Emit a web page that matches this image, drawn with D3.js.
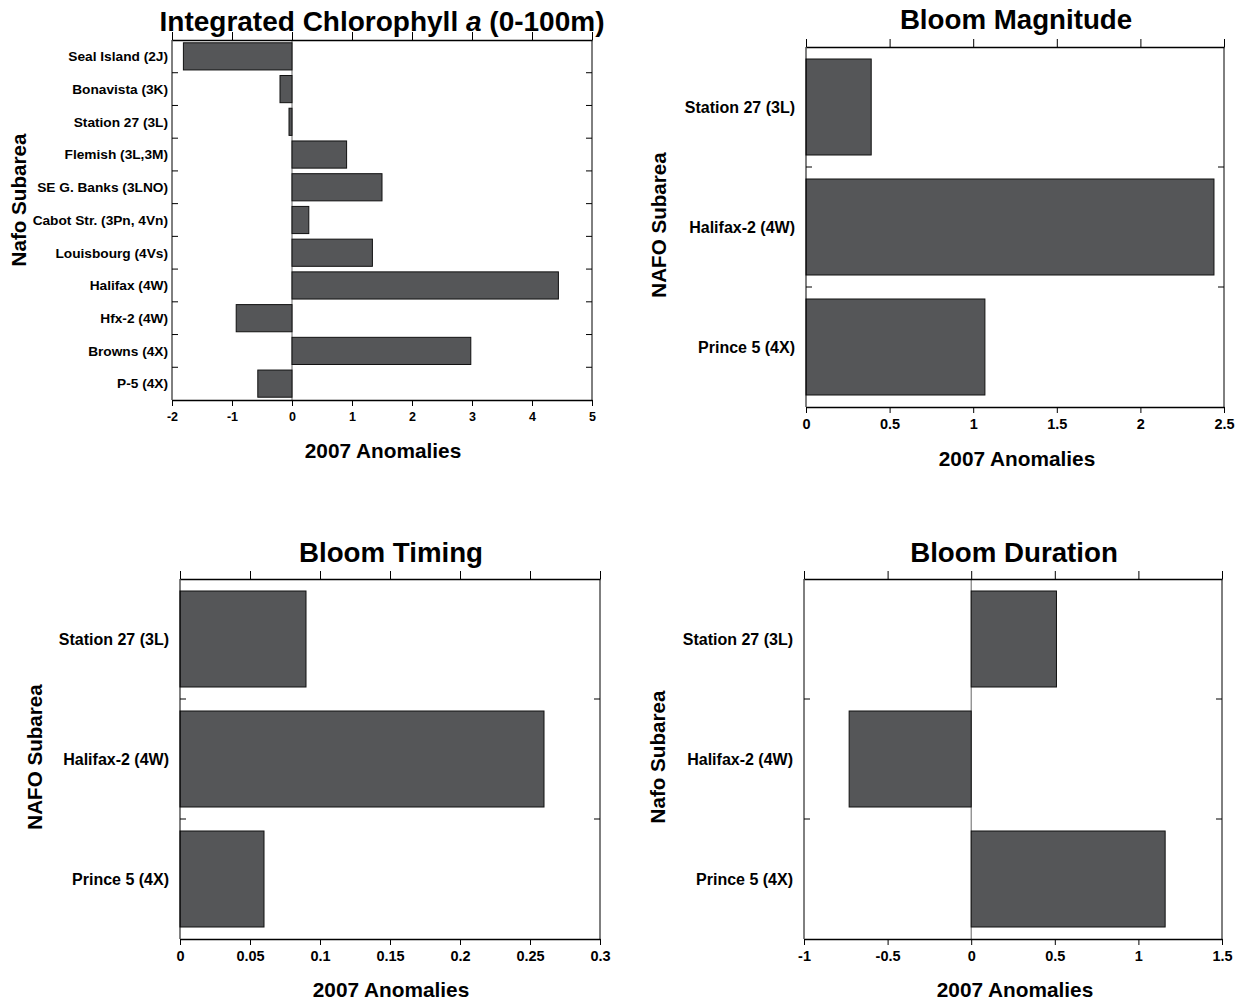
<!DOCTYPE html>
<html><head><meta charset="utf-8">
<script src="https://cdn.jsdelivr.net/npm/d3@7"></script>
<style>body{margin:0;background:#fff}svg{display:block}text{font-family:"Liberation Sans",Arial,sans-serif;font-weight:bold}</style>
</head><body>
<script>
// ---- data ----
const chlCategories = ["Seal Island (2J)","Bonavista (3K)","Station 27 (3L)","Flemish (3L,3M)","SE G. Banks (3LNO)","Cabot Str. (3Pn, 4Vn)","Louisbourg (4Vs)","Halifax (4W)","Hfx-2 (4W)","Browns (4X)","P-5 (4X)"];
const chlValues = [-1.81,-0.2,-0.05,0.91,1.5,0.28,1.34,4.44,-0.93,2.98,-0.57];
const chlTicks = [-2,-1,0,1,2,3,4,5];

const bloomCategories = ["Station 27 (3L)","Halifax-2 (4W)","Prince 5 (4X)"];
const magnitudeValues = [0.39,2.44,1.07];
const magnitudeTicks = [0,0.5,1,1.5,2,2.5];
const timingValues = [0.09,0.26,0.06];
const timingTicks = [0,0.05,0.1,0.15,0.2,0.25,0.3];
const durationValues = [0.51,-0.73,1.16];
const durationTicks = [-1,-0.5,0,0.5,1,1.5];

const W = 1251, H = 1005;
const svg = d3.select("body").append("svg").attr("width",W).attr("height",H);

function panel(o){
  const g = svg.append("g");
  const x = d3.scaleLinear().domain([o.ticks[0], o.ticks[o.ticks.length-1]]).range([o.x0,o.x1]);
  const y = d3.scaleBand().domain(o.cats).range([o.y0,o.y1]).paddingInner(o.pad).paddingOuter(o.pad/2);
  if (o.zero) g.append("line").attr("x1",x(0)).attr("x2",x(0)).attr("y1",o.y0).attr("y2",o.y1)
     .attr("stroke","#666").attr("stroke-width",1);
  g.selectAll("rect.bar").data(o.vals).join("rect").attr("class","bar")
    .attr("x",(d)=>x(Math.min(0,d))).attr("width",(d)=>Math.abs(x(d)-x(0)))
    .attr("y",(d,i)=>y(o.cats[i])).attr("height",y.bandwidth())
    .attr("fill","#555658").attr("stroke","#111").attr("stroke-width",1);
  const bx = g.append("g").attr("transform",`translate(0,${o.y1})`)
    .call(d3.axisBottom(x).tickValues(o.ticks).tickFormat(d=>String(d)).tickSize(6).tickSizeOuter(0).tickPadding(6));
  bx.select(".domain").attr("stroke","#000").attr("stroke-width",1.5);
  bx.selectAll("line").attr("stroke","#000");
  bx.selectAll("text").attr("font-size",o.tickFs).attr("fill","#000");
  const tx = g.append("g").attr("transform",`translate(0,${o.y0})`)
    .call(d3.axisTop(x).tickValues(o.ticks).tickFormat("").tickSize(8).tickSizeOuter(0));
  tx.select(".domain").attr("stroke","#000").attr("stroke-width",1.5);
  tx.selectAll("line").attr("stroke","#000");
  g.append("line").attr("x1",o.x0).attr("x2",o.x0).attr("y1",o.y0).attr("y2",o.y1).attr("stroke","#000");
  g.append("line").attr("x1",o.x1).attr("x2",o.x1).attr("y1",o.y0).attr("y2",o.y1).attr("stroke","#000");
  const step = y.step();
  const seps = d3.range(1,o.cats.length).map(i=>o.y0+i*step);
  g.selectAll("line.sl").data(seps).join("line").attr("class","sl")
    .attr("x1",o.x0).attr("x2",o.x0+6).attr("y1",d=>d).attr("y2",d=>d).attr("stroke","#000");
  g.selectAll("line.sr").data(seps).join("line").attr("class","sr")
    .attr("x1",o.x1-6).attr("x2",o.x1).attr("y1",d=>d).attr("y2",d=>d).attr("stroke","#000");
  g.selectAll("text.cat").data(o.cats).join("text").attr("class","cat")
    .attr("x",o.x0-o.labGap).attr("y",d=>y(d)+y.bandwidth()/2).attr("dy","0.35em")
    .attr("text-anchor","end").attr("font-size",o.catFs).text(d=>d);
  const t = g.append("text").attr("x",o.titleX).attr("y",o.titleY).attr("text-anchor","middle")
    .attr("font-size",o.titleFs);
  if (o.titleParts) o.titleParts.forEach(p=>t.append("tspan").attr("font-style",p[1]?"italic":"normal").text(p[0]));
  else t.text(o.title);
  g.append("text").attr("x",o.xtX).attr("y",o.xtY).attr("text-anchor","middle").attr("font-size",o.xtFs).text("2007 Anomalies");
  g.append("text").attr("transform",`translate(${o.ytX},${o.ytY}) rotate(-90)`).attr("text-anchor","middle")
    .attr("font-size",o.ytFs).text(o.ytitle);
}

panel({cats:chlCategories, vals:chlValues, ticks:chlTicks, x0:172,x1:592,y0:40,y1:400, pad:0.17, zero:true,
  tickFs:12.5, catFs:13.7, labGap:4, titleParts:[["Integrated Chlorophyll "],["a",true],[" (0-100m)"]], titleX:382,titleY:31,titleFs:28,
  xtX:383,xtY:458,xtFs:20.8, ytX:26,ytY:200,ytFs:20.6, ytitle:"Nafo Subarea"});
panel({cats:bloomCategories, vals:magnitudeValues, ticks:magnitudeTicks, x0:806,x1:1224,y0:47,y1:407, pad:0.2, zero:false,
  tickFs:14.5, catFs:16, labGap:11, title:"Bloom Magnitude", titleX:1016,titleY:29,titleFs:27.7,
  xtX:1017,xtY:466,xtFs:20.8, ytX:666,ytY:225,ytFs:20.6, ytitle:"NAFO Subarea"});
panel({cats:bloomCategories, vals:timingValues, ticks:timingTicks, x0:180,x1:600,y0:579,y1:939, pad:0.2, zero:false,
  tickFs:14.5, catFs:16, labGap:11, title:"Bloom Timing", titleX:391,titleY:562,titleFs:27.7,
  xtX:391,xtY:997,xtFs:20.8, ytX:42,ytY:757,ytFs:20.6, ytitle:"NAFO Subarea"});
panel({cats:bloomCategories, vals:durationValues, ticks:durationTicks, x0:804,x1:1222,y0:579,y1:939, pad:0.2, zero:true,
  tickFs:14.5, catFs:16, labGap:11, title:"Bloom Duration", titleX:1014,titleY:562,titleFs:27.7,
  xtX:1015,xtY:997,xtFs:20.8, ytX:665,ytY:757,ytFs:20.6, ytitle:"Nafo Subarea"});
</script>
</body></html>
